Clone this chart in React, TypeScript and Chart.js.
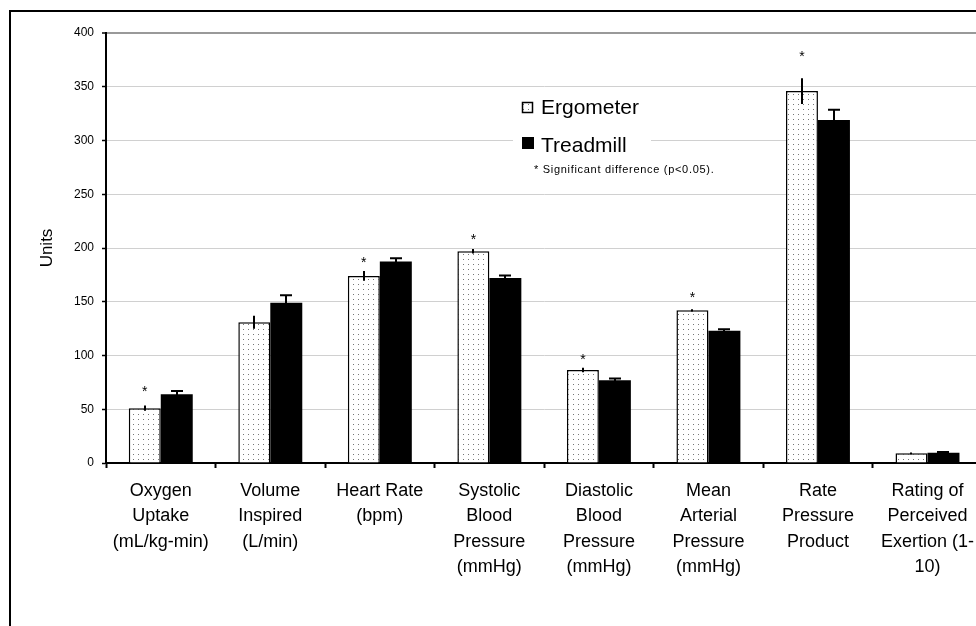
import React, { useEffect, useRef } from "react";
import { Chart, registerables } from "chart.js";
Chart.register(...registerables);

const categories: string[][] = [
  ["Oxygen", "Uptake", "(mL/kg-min)"],
  ["Volume", "Inspired", "(L/min)"],
  ["Heart Rate", "(bpm)"],
  ["Systolic", "Blood", "Pressure", "(mmHg)"],
  ["Diastolic", "Blood", "Pressure", "(mmHg)"],
  ["Mean", "Arterial", "Pressure", "(mmHg)"],
  ["Rate", "Pressure", "Product"],
  ["Rating of", "Perceived", "Exertion (1-", "10)"],
];
const ergometer = [51, 131, 174, 197, 86.5, 142, 346, 9];
const ergometerErr = [2.5, 6, 4.5, 2, 2, 1, 12, 0.8];
const treadmill = [64, 149, 187.5, 172, 77, 123, 319, 9.5];
const treadmillErr = [3, 7, 3, 2.5, 1.5, 1.5, 9.5, 0.8];
const asteriskAt: (number | null)[] = [70, null, 189.5, 211, 99.5, 157, 381, null];
const yMin = 0;
const yMax = 400;
const yStep = 50;
const seriesNames = ["Ergometer", "Treadmill"];
const footnote = "* Significant difference (p<0.05).";

const FONT = "Arial, 'Liberation Sans', sans-serif";

function makePattern(): CanvasPattern | string {
  const c = document.createElement("canvas");
  c.width = 5;
  c.height = 5;
  const g = c.getContext("2d");
  if (!g) return "#fff";
  g.fillStyle = "#fff";
  g.fillRect(0, 0, 5, 5);
  g.fillStyle = "#777";
  g.fillRect(2, 2, 1, 1);
  const p = g.createPattern(c, "repeat");
  return p || "#fff";
}

const overlayPlugin = {
  id: "overlay",
  afterDatasetsDraw(chart: any) {
    const ctx: CanvasRenderingContext2D = chart.ctx;
    const y = chart.scales.y;
    const m0 = chart.getDatasetMeta(0);
    const m1 = chart.getDatasetMeta(1);
    ctx.save();
    ctx.strokeStyle = "#000";
    ctx.lineWidth = 2;
    m0.data.forEach((bar: any, i: number) => {
      const x = Math.round(bar.x);
      ctx.beginPath();
      ctx.moveTo(x, y.getPixelForValue(ergometer[i] + ergometerErr[i]));
      ctx.lineTo(x, y.getPixelForValue(ergometer[i] - ergometerErr[i]));
      ctx.stroke();
    });
    m1.data.forEach((bar: any, i: number) => {
      const x = Math.round(bar.x);
      const top = y.getPixelForValue(treadmill[i] + treadmillErr[i]);
      ctx.beginPath();
      ctx.moveTo(x, top);
      ctx.lineTo(x, y.getPixelForValue(treadmill[i] - treadmillErr[i]));
      ctx.moveTo(x - 6, top);
      ctx.lineTo(x + 6, top);
      ctx.stroke();
    });
    ctx.fillStyle = "#000";
    ctx.font = `14px ${FONT}`;
    ctx.textAlign = "center";
    ctx.textBaseline = "alphabetic";
    m0.data.forEach((bar: any, i: number) => {
      const v = asteriskAt[i];
      if (v == null) return;
      ctx.fillText("*", bar.x, y.getPixelForValue(v) + 8);
    });
    ctx.restore();
  },
  afterDraw(chart: any) {
    const ctx: CanvasRenderingContext2D = chart.ctx;
    const pattern = chart.data.datasets[0].backgroundColor;
    ctx.save();
    ctx.fillStyle = "#fff";
    ctx.fillRect(502, 76, 138, 69);
    ctx.fillStyle = pattern;
    ctx.fillRect(511, 90, 11, 11);
    ctx.strokeStyle = "#000";
    ctx.lineWidth = 1.5;
    ctx.strokeRect(511.5, 90.5, 10, 10);
    ctx.fillStyle = "#000";
    ctx.fillRect(511, 125, 12, 12);
    ctx.font = `21px ${FONT}`;
    ctx.textAlign = "left";
    ctx.textBaseline = "alphabetic";
    ctx.fillText(seriesNames[0], 530, 102);
    ctx.fillText(seriesNames[1], 530, 140);
    ctx.font = `11px ${FONT}`;
    (ctx as any).letterSpacing = "0.7px";
    ctx.fillText(footnote, 523, 161);
    ctx.restore();
  },
};

export default function App() {
  const ref = useRef<HTMLCanvasElement | null>(null);
  useEffect(() => {
    if (!ref.current) return;
    const pattern = makePattern();
    const chart = new Chart(ref.current, {
      type: "bar",
      data: {
        labels: categories,
        datasets: [
          {
            label: seriesNames[0],
            data: ergometer,
            backgroundColor: pattern as any,
            borderColor: "#000",
            borderWidth: 1.5,
            categoryPercentage: 0.584,
            barPercentage: 1,
          },
          {
            label: seriesNames[1],
            data: treadmill,
            backgroundColor: "#000",
            borderColor: "#000",
            borderWidth: 0,
            categoryPercentage: 0.584,
            barPercentage: 1,
          },
        ],
      },
      options: {
        animation: false,
        responsive: false,
        maintainAspectRatio: false,
        events: [],
        layout: { padding: { top: 21, left: 0, right: 0, bottom: 0 } },
        plugins: { legend: { display: false }, tooltip: { enabled: false } },
        scales: {
          x: {
            grid: {
              drawOnChartArea: false,
              offset: true,
              tickLength: 5,
              tickColor: "#000",
              tickWidth: 2,
            },
            border: { color: "#000", width: 2 },
            ticks: {
              color: "#000",
              font: { family: FONT, size: 18, lineHeight: 1.42 },
              maxRotation: 0,
              minRotation: 0,
              autoSkip: false,
              padding: 10,
            },
            afterFit: (s: any) => {
              s.height = 163;
            },
          },
          y: {
            min: yMin,
            max: yMax,
            ticks: {
              stepSize: yStep,
              color: "#000",
              font: { family: FONT, size: 12 },
              padding: 8,
            },
            grid: {
              color: (c: any) => (c.tick && c.tick.value === yMax ? "#999" : "#d0d0d0"),
              lineWidth: (c: any) => (c.tick && c.tick.value === yMax ? 2 : 1),
              tickColor: "#000",
              tickLength: 4,
              tickWidth: 1.5,
            },
            border: { color: "#000", width: 2 },
            title: {
              display: true,
              text: "Units",
              color: "#000",
              font: { family: FONT, size: 17 },
              padding: { top: 26, bottom: 0 },
            },
            afterFit: (s: any) => {
              s.width = 95;
            },
          },
        },
      },
      plugins: [overlayPlugin],
    });
    return () => chart.destroy();
  }, []);

  return (
    <div
      style={{
        position: "fixed",
        left: 0,
        top: 0,
        width: 976,
        height: 626,
        overflow: "hidden",
        background: "#fff",
      }}
    >
      <div
        style={{
          position: "absolute",
          left: 9,
          top: 10,
          width: 1100,
          height: 700,
          borderLeft: "2px solid #000",
          borderTop: "2px solid #000",
        }}
      >
        <canvas
          ref={ref}
          width={973}
          height={614}
          style={{ position: "absolute", left: 0, top: 0, width: 973, height: 614 }}
        />
      </div>
    </div>
  );
}
